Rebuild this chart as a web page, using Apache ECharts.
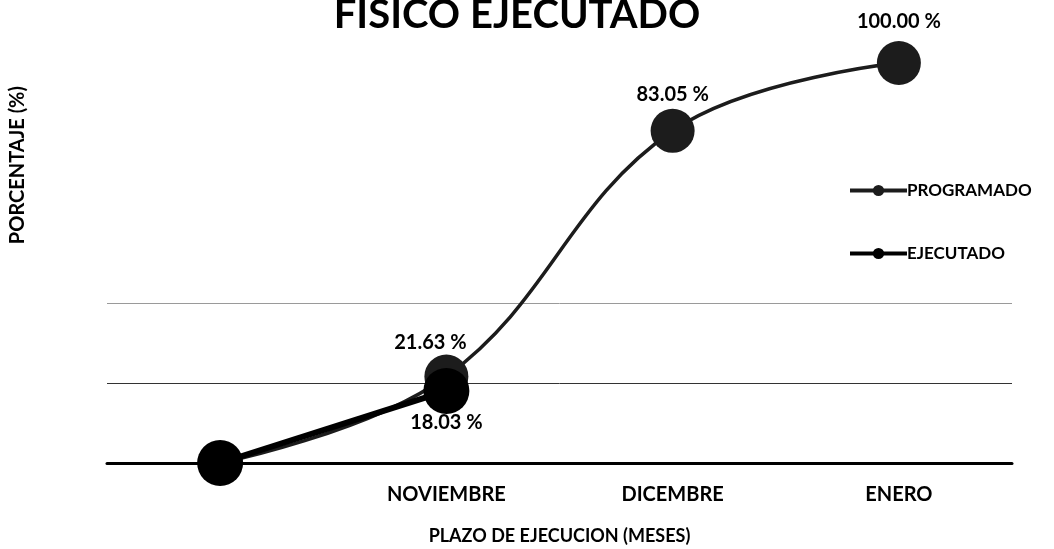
<!DOCTYPE html>
<html>
<head>
<meta charset="utf-8">
<script src="https://cdn.jsdelivr.net/npm/echarts@6/dist/echarts.min.js"></script>
<style>
  html, body { margin: 0; padding: 0; background: #fff; }
  #chart { width: 1054px; height: 549px; }
</style>
</head>
<body>
<div id="chart"></div>
<script>
// Months of the schedule (first slot is the starting point)
const months = ['', 'NOVIEMBRE', 'DICEMBRE', 'ENERO'];
// Cumulative physical progress, %
const programado = [0, 21.63, 83.05, 100];
const ejecutado = [0, 18.03];
// Y axis scale
const yMin = 0, yMax = 100, yStep = 20;

const FONT = 'Lato, "Open Sans", sans-serif';
const fmt = v => v.toFixed(2) + ' %';

// per-point label offsets for the programmed curve
const progLabelOffsets = [null, [-16, 2], [0, 0], [0, -5]];

const chart = echarts.init(document.getElementById('chart'));
chart.setOption({
  backgroundColor: '#fff',
  animation: false,
  title: {
    text: 'FISICO EJECUTADO',
    left: 512,
    textAlign: 'center',
    top: -10,
    textStyle: { fontFamily: FONT, fontWeight: 'bold', fontSize: 40, color: '#000' }
  },
  legend: {
    orient: 'vertical',
    left: 843,
    top: 177,
    itemGap: 46,
    itemWidth: 57,
    itemHeight: 14,
    lineStyle: { width: 4 },
    textStyle: { fontFamily: FONT, fontWeight: 'bold', fontSize: 17, color: '#000', padding: [0, 0, 0, -5] },
    data: ['PROGRAMADO', 'EJECUTADO']
  },
  grid: { left: 107, right: 42, top: 63, bottom: 86, containLabel: false, outerBoundsMode: 'none' },
  xAxis: {
    type: 'category',
    data: months,
    boundaryGap: true,
    name: 'PLAZO DE EJECUCION (MESES)',
    nameLocation: 'middle',
    nameGap: 64,
    nameTextStyle: { fontFamily: FONT, fontWeight: 'bold', fontSize: 18, color: '#000' },
    axisLine: { show: true, lineStyle: { color: '#000', width: 3 } },
    axisTick: { show: false },
    axisLabel: { fontFamily: FONT, fontWeight: 'bold', fontSize: 20, color: '#000', margin: 22 }
  },
  yAxis: {
    type: 'value',
    min: yMin,
    max: yMax,
    interval: yStep,
    axisLine: { show: false },
    axisTick: { show: false },
    axisLabel: { show: false },
    splitLine: {
      show: true,
      lineStyle: { color: ['#000', '#333', '#9a9a9a', 'rgba(0,0,0,0)', 'rgba(0,0,0,0)', 'rgba(0,0,0,0)'], width: 1 }
    }
  },
  graphic: [{
    type: 'text',
    left: 8,
    top: 86,
    rotation: Math.PI / 2,
    style: {
      text: 'PORCENTAJE (%)',
      fontFamily: FONT, fontWeight: 'bold', fontSize: 20, fill: '#000'
    }
  }],
  series: [
    {
      name: 'PROGRAMADO',
      type: 'line',
      data: programado.map((v, i) => ({
        value: v,
        label: {
          show: i > 0,
          offset: progLabelOffsets[i] || [0, 0]
        }
      })),
      smooth: 0.4,
      symbol: 'circle',
      symbolSize: 44,
      lineStyle: { color: '#1c1c1c', width: 3.5 },
      itemStyle: { color: '#1c1c1c' },
      label: {
        position: 'top',
        distance: 4,
        formatter: p => fmt(p.value),
        fontFamily: FONT, fontWeight: 'bold', fontSize: 20, color: '#000'
      },
      z: 2
    },
    {
      name: 'EJECUTADO',
      type: 'line',
      data: ejecutado.map((v, i) => ({
        value: v,
        label: { show: i > 0 }
      })),
      smooth: 0.4,
      symbol: 'circle',
      symbolSize: 46,
      lineStyle: { color: '#000', width: 6 },
      itemStyle: { color: '#000' },
      label: {
        position: 'bottom',
        distance: 2,
        offset: [0, -3],
        formatter: p => fmt(p.value),
        fontFamily: FONT, fontWeight: 'bold', fontSize: 20, color: '#000'
      },
      z: 3
    }
  ]
});
</script>
</body>
</html>
